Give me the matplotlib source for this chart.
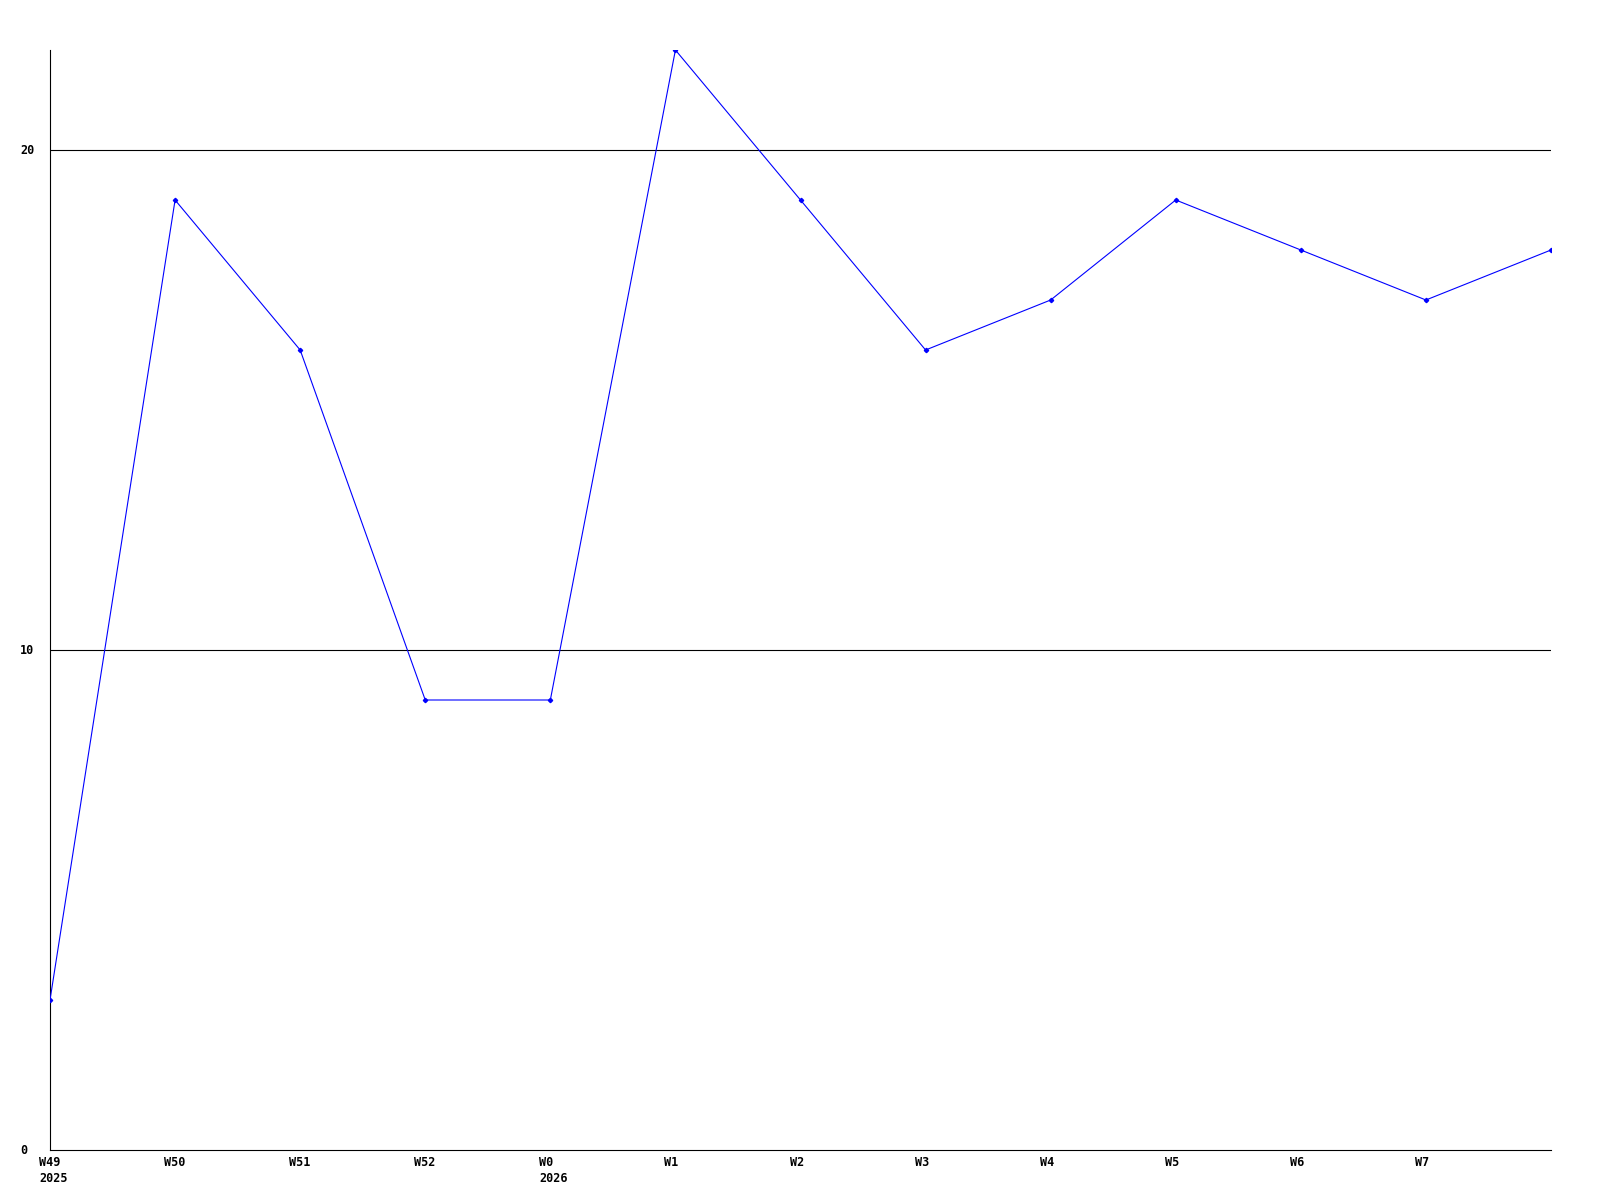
import matplotlib
matplotlib.use('Agg')
import matplotlib.pyplot as plt
import matplotlib.transforms as mtransforms

# weekly values
weeks = ['W49\n2025', 'W50', 'W51', 'W52', 'W0\n2026', 'W1', 'W2', 'W3', 'W4', 'W5', 'W6', 'W7', '']
values = [3, 19, 16, 9, 9, 22, 19, 16, 17, 19, 18, 17, 18]
yticks = [0, 10, 20]

fig = plt.figure(figsize=(16, 12), dpi=100)
ax = fig.add_axes([50 / 1600, 50 / 1200, 1501 / 1600, 1100 / 1200])

x = list(range(len(values)))
ax.plot(x, values, color='#0000ff', linewidth=0.8, marker='D', markersize=2.2, zorder=3)

ax.set_xlim(0, len(values) - 1)
ax.set_ylim(0, 22)

# horizontal grid lines
for y in yticks[1:]:
    ax.axhline(y, color='black', linewidth=0.8, zorder=1)

ax.spines['top'].set_visible(False)
ax.spines['right'].set_visible(False)
ax.spines['left'].set_linewidth(0.8)
ax.spines['bottom'].set_linewidth(0.8)
ax.set_xticks([])
ax.set_yticks([])

# week labels, left-aligned a little before each point
trans = mtransforms.blended_transform_factory(ax.transData, ax.transAxes)
shift = mtransforms.ScaledTranslation(-11 / 100, -6 / 100, fig.dpi_scale_trans)
for xi, lbl in zip(x, weeks):
    ax.text(xi, 0, lbl, transform=trans + shift, ha='left', va='top',
            fontsize=8.5, fontweight='bold', family='DejaVu Sans Mono', linespacing=1.3)

# y labels, left-aligned near the figure edge
ytrans = mtransforms.blended_transform_factory(fig.transFigure, ax.transData)
for v in yticks:
    ax.text(20 / 1600, v, str(v), transform=ytrans, ha='left', va='center',
            fontsize=8.5, fontweight='bold', family='DejaVu Sans Mono')

fig.savefig('out.png', dpi=100)
